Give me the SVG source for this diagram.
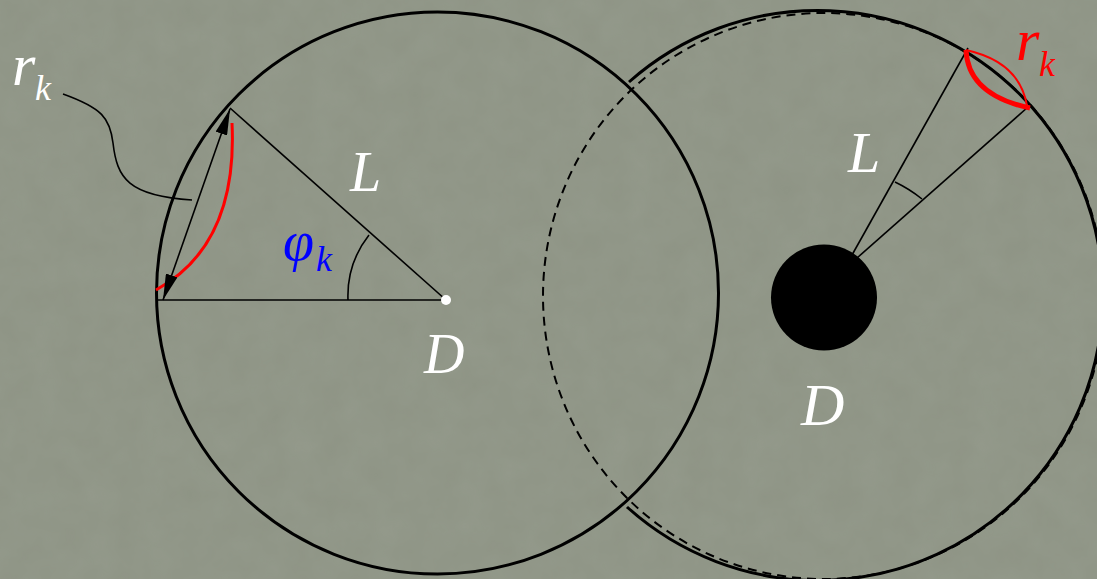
<svg xmlns="http://www.w3.org/2000/svg" width="1097" height="579" viewBox="0 0 1097 579">
<defs>
<style>
.bg{fill:#8e9485}
.circ{fill:none;stroke:#000;stroke-width:3}
.dash{fill:none;stroke:#000;stroke-width:2;stroke-dasharray:9 6}
.thin{fill:none;stroke:#000;stroke-width:1.6}
.red{fill:none;stroke:#ff0000;stroke-width:3}
.lbl{font-family:"Liberation Serif","Times New Roman",serif;font-style:italic;fill:#fff}
.redt{fill:#ff0000}
.bluet{fill:#0000ff}
</style>
<marker id="ah" viewBox="0 0 26 12" refX="26" refY="6" markerWidth="26" markerHeight="12" markerUnits="userSpaceOnUse" orient="auto-start-reverse">
<path d="M0,0 L26,6 L0,12 Z" fill="#000"/>
</marker>
<filter id="tex" x="0" y="0" width="100%" height="100%">
<feTurbulence type="fractalNoise" baseFrequency="0.035" numOctaves="3" seed="4" result="n"/>
<feColorMatrix in="n" type="matrix" values="0 0 0 0 0.55  0 0 0 0 0.58  0 0 0 0 0.52  0 0 0 0.18 0"/>
</filter>
</defs>
<rect class="bg" x="0" y="0" width="1097" height="579"/>
<rect x="0" y="0" width="1097" height="579" filter="url(#tex)" opacity="0.6"/>

<g id="left-circle">
<circle class="circ" cx="437.5" cy="293" r="281"/>
</g>

<g id="right-circle">
<ellipse class="dash" cx="823.5" cy="296" rx="280.5" ry="283"/>
<path class="circ" d="M629,82 A285,285 0 1 1 627,507"/>
<circle cx="824" cy="297.5" r="53" fill="#000"/>
</g>

<g id="connectors">
<line class="thin" x1="158" y1="300" x2="446" y2="300"/>
<line class="thin" x1="446" y1="300" x2="230" y2="108"/>
<path class="red" d="M156,290 Q238,245 232,123"/>
<line class="thin" x1="230" y1="109" x2="163" y2="300" marker-start="url(#ah)" marker-end="url(#ah)"/>
<path class="thin" d="M369,235 A99,99 0 0 0 348,300"/>
<path class="thin" d="M63,94 C102,108 110,118 113,143 C117,178 128,196 192,200"/>
<line class="thin" x1="852" y1="255" x2="968" y2="48"/>
<line class="thin" x1="857" y1="258" x2="1028" y2="107"/>
<path class="thin" d="M895,182 A136,136 0 0 1 922,199"/>
<path fill="none" stroke="#ff0000" stroke-width="5" d="M966,50 Q968,95 1030,108"/>
<path fill="none" stroke="#ff0000" stroke-width="2" d="M966,50 Q1020,62 1027,106"/>
</g>

<g id="labels">
<text class="lbl" x="12" y="85" font-size="60">r</text>
<text class="lbl" x="35" y="100" font-size="36">k</text>
<text class="lbl" x="350" y="191" font-size="56">L</text>
<text class="lbl bluet" x="283" y="260" font-size="56">φ</text>
<text class="lbl bluet" x="316" y="271" font-size="36">k</text>
<circle cx="446" cy="300" r="5" fill="#fff"/>
<text class="lbl" x="424" y="373" font-size="56">D</text>
<text class="lbl" x="848" y="172" font-size="58">L</text>
<text class="lbl" x="801" y="425" font-size="60">D</text>
<text class="lbl redt" x="1016" y="60" font-size="60">r</text>
<text class="lbl redt" x="1039" y="76" font-size="36">k</text>
</g>
</svg>
